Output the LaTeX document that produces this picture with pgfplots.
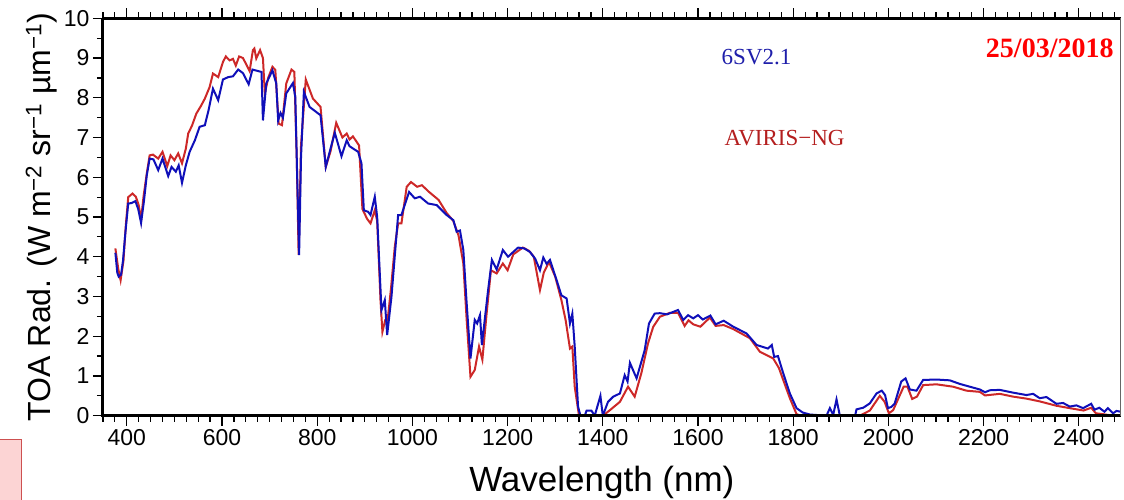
\documentclass[border=0pt]{standalone}
\usepackage{fontspec}
\setmainfont{Liberation Sans}
\newfontfamily\serif{Liberation Serif}
\usepackage{pgfplots}
\pgfplotsset{compat=1.18}
\definecolor{sixsv}{RGB}{15,15,185}
\definecolor{aviris}{RGB}{205,40,40}
\definecolor{sixsvtext}{RGB}{30,30,170}
\definecolor{aviristext}{RGB}{180,30,30}
\definecolor{datered}{RGB}{255,0,0}

\pgfplotstableread{
x y
376 4.21
382 3.70
387 3.41
393 3.90
398 4.80
403 5.50
412 5.59
419 5.51
425 5.30
430 4.93
435 5.50
442 6.10
448 6.55
455 6.57
466 6.47
475 6.64
485 6.28
492 6.55
500 6.43
508 6.60
516 6.35
524 6.72
529 7.10
537 7.30
546 7.60
556 7.80
564 7.98
574 8.27
581 8.61
592 8.52
602 8.90
608 9.04
616 8.94
623 8.98
629 8.81
636 9.04
644 9.00
651 8.84
658 8.67
665 9.20
668 9.24
672 8.99
680 9.20
686 9.00
690 8.10
697 8.50
706 8.78
712 8.70
719 7.35
726 7.31
735 8.36
746 8.71
752 8.65
757 6.50
761 4.05
766 6.80
776 8.46
791 7.98
807 7.77
818 6.26
828 6.65
840 7.37
853 7.00
862 7.10
868 6.95
875 7.03
888 6.80
895 5.20
905 4.95
912 4.84
921 5.17
926 4.90
933 2.90
937 2.11
943 2.41
948 2.41
955 3.20
963 4.25
970 4.84
977 4.84
988 5.76
997 5.88
1010 5.76
1020 5.80
1035 5.63
1055 5.43
1072 5.10
1086 4.90
1097 4.53
1107 3.83
1114 2.41
1122 0.98
1131 1.15
1140 1.74
1147 1.41
1156 2.58
1165 3.66
1177 3.58
1190 3.83
1200 3.66
1212 4.06
1232 4.23
1245 4.15
1255 4.00
1268 3.16
1276 3.60
1287 3.87
1300 3.50
1313 2.91
1322 2.40
1331 1.69
1336 1.74
1341 0.73
1350 0.00
1400 0.00
1415 0.14
1436 0.35
1453 0.73
1467 0.48
1481 1.07
1495 1.82
1506 2.24
1520 2.49
1541 2.59
1558 2.59
1572 2.26
1580 2.40
1590 2.30
1605 2.24
1625 2.47
1637 2.26
1654 2.28
1674 2.18
1709 1.95
1730 1.61
1758 1.44
1770 1.20
1779 0.90
1793 0.44
1807 0.04
1815 0.00
1940 0.00
1961 0.13
1982 0.50
1992 0.35
2001 0.06
2010 0.14
2032 0.73
2040 0.73
2050 0.42
2060 0.48
2073 0.77
2101 0.79
2136 0.73
2164 0.63
2192 0.60
2203 0.51
2234 0.55
2262 0.48
2290 0.43
2318 0.36
2353 0.25
2381 0.19
2410 0.13
2426 0.20
2436 0.06
2450 0.04
2472 0.00
2490 0.00
}\aviristable

\pgfplotstableread{
x y
376 4.10
380 3.60
383 3.50
388 3.55
392 3.90
397 4.60
403 5.34
410 5.35
418 5.40
424 5.20
430 4.85
436 5.40
442 6.05
448 6.47
456 6.45
466 6.18
475 6.47
487 6.03
494 6.26
503 6.14
509 6.30
516 5.86
524 6.30
532 6.64
543 6.93
553 7.27
564 7.31
572 7.70
581 8.23
592 7.94
602 8.46
613 8.52
623 8.54
634 8.71
644 8.62
656 8.34
664 8.71
683 8.65
686 7.43
693 8.36
706 8.69
714 8.36
718 7.43
723 7.62
728 7.50
735 8.11
749 8.37
754 8.02
758 6.00
762 4.04
766 6.50
772 8.15
784 7.77
807 7.56
818 6.26
828 6.72
837 7.12
851 6.53
862 6.93
868 6.78
886 6.64
893 6.35
898 5.17
907 5.13
912 5.05
921 5.51
926 5.00
935 2.66
942 2.91
947 2.03
956 2.99
970 5.05
977 5.05
993 5.63
1005 5.47
1016 5.51
1033 5.34
1051 5.30
1072 5.05
1086 4.92
1093 4.63
1100 4.66
1107 4.17
1114 2.83
1122 1.44
1131 2.41
1136 2.32
1142 2.53
1146 1.78
1159 3.16
1167 3.92
1177 3.68
1190 4.17
1201 4.00
1210 4.10
1222 4.23
1235 4.21
1247 4.12
1258 3.95
1268 3.66
1275 3.98
1282 3.82
1289 3.92
1303 3.41
1313 3.03
1324 2.95
1331 2.32
1336 2.57
1341 1.74
1348 0.23
1353 0.00
1362 0.00
1366 0.13
1376 0.13
1383 0.00
1395 0.50
1400 0.00
1411 0.35
1422 0.48
1436 0.56
1446 1.02
1452 0.86
1457 1.33
1471 0.94
1488 1.65
1497 2.32
1509 2.57
1520 2.58
1535 2.55
1558 2.66
1569 2.41
1579 2.53
1590 2.45
1600 2.53
1610 2.42
1626 2.52
1637 2.30
1654 2.39
1674 2.24
1702 2.07
1723 1.78
1747 1.69
1755 1.78
1760 1.48
1768 1.50
1779 1.07
1793 0.56
1807 0.19
1820 0.08
1835 0.03
1870 0.00
1877 0.19
1884 0.02
1891 0.41
1898 0.00
1930 0.00
1933 0.16
1947 0.20
1961 0.31
1975 0.56
1986 0.63
1993 0.52
1999 0.19
2006 0.22
2013 0.30
2027 0.86
2036 0.94
2045 0.66
2059 0.63
2073 0.90
2101 0.91
2129 0.89
2150 0.80
2171 0.73
2192 0.66
2203 0.59
2213 0.64
2234 0.65
2262 0.58
2290 0.52
2304 0.55
2318 0.44
2332 0.47
2353 0.30
2367 0.32
2381 0.23
2395 0.26
2409 0.19
2426 0.30
2433 0.15
2443 0.20
2454 0.10
2461 0.19
2472 0.06
2479 0.12
2493 0.09
}\sixsvtable

\begin{document}
\begin{tikzpicture}
\begin{axis}[
  at={(0,0)}, anchor=south west,
  scale only axis, width=1017.7pt, height=397.4pt,
  xmin=350, xmax=2488, ymin=0, ymax=10,
  xtick={400,600,...,2400},
  minor xtick={350,375,...,2475},
  ytick={0,1,...,10},
  minor ytick={0.5,1.5,...,9.5},
  tick align=outside,
  major tick length=10pt, minor tick length=6pt,
  tick style={black, line width=1.2pt},
  ytick pos=left,
  axis line style={draw=none},
  tick label style={font=\fontsize{23}{27}\selectfont},
  /pgf/number format/assume math mode=true,
  /pgf/number format/1000 sep={},
  ylabel style={font=\fontsize{32}{38}\selectfont},
  xlabel style={font=\fontsize{35}{40}\selectfont, yshift=-14pt, xshift=-10pt},
  xlabel={Wavelength (nm)},
  ylabel={TOA Rad. (W m\textsuperscript{−2} sr\textsuperscript{−1} µm\textsuperscript{−1})},
]
\addplot[aviris, line width=2pt, no marks, sharp plot] table[x=x,y=y] {\aviristable};
\addplot[sixsv, line width=2pt, no marks, sharp plot] table[x=x,y=y] {\sixsvtable};
\node[font=\serif\fontsize{23}{27}\selectfont, text=sixsvtext] at (axis cs:1723,9.02) {6SV2.1};
\node[font=\serif\fontsize{23}{27}\selectfont, text=aviristext] at (axis cs:1782,6.98) {AVIRIS−NG};
\node[font=\serif\bfseries\fontsize{28}{32}\selectfont, text=datered] at (axis cs:2339,9.24) {25/03/2018};
\end{axis}
\draw[line width=3pt, black] (0pt,397.4pt) -- (0pt,0pt) -- (1017.7pt,0pt);
\draw[line width=3pt, black] (0pt,397.4pt) -- (1017.7pt,397.4pt);
\draw[line width=1pt, black!60] (1017.7pt,0pt) -- (1017.7pt,397.4pt);
\fill[fill={rgb,255:red,252;green,212;blue,212}, draw={rgb,255:red,205;green,80;blue,80}, line width=1pt] (-104pt,-23.3pt) rectangle (-81pt,-95pt);
\pgfresetboundingbox
\path[use as bounding box] (-103pt,-83.3pt) rectangle (1021pt,415.7pt);
\end{tikzpicture}
\end{document}
